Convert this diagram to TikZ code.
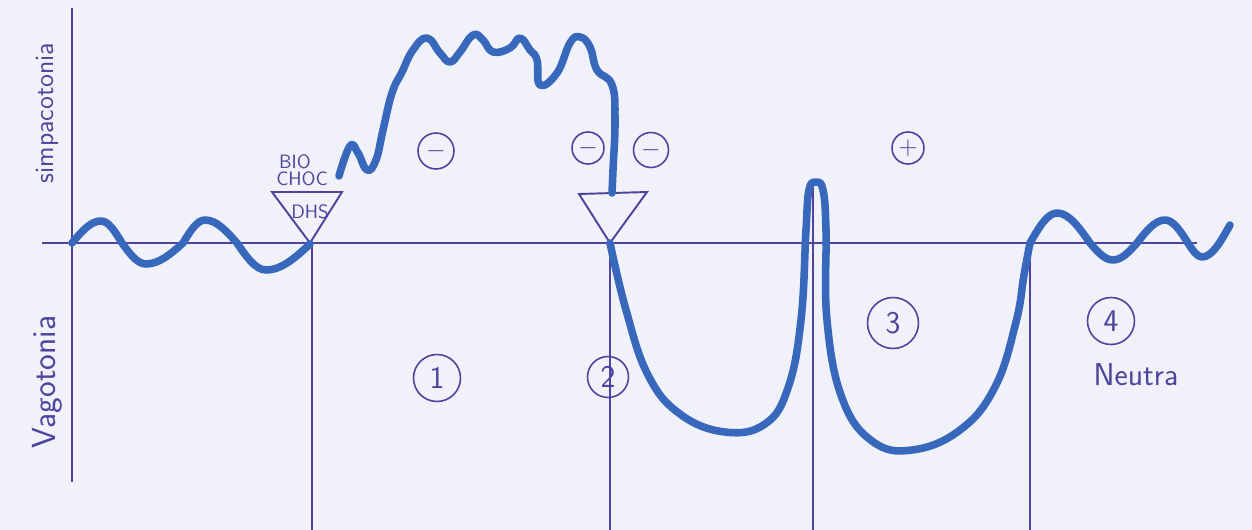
\documentclass[tikz,border=0pt]{standalone}
\usepackage{tikz}

\definecolor{paper}{RGB}{241,241,249}
\definecolor{pen}{RGB}{78,68,158}
\definecolor{ink}{RGB}{55,104,188}

\tikzset{
  axis/.style={pen, line width=1.1pt},
  wave/.style={ink, line width=4.3pt, line cap=round, line join=round},
  hand/.style={pen, font=\sffamily},
  sign/.style={circle, draw=pen, line width=0.9pt, inner sep=0pt, minimum size=0.64cm, text=pen, font=\Large},
  zone/.style={circle, draw=pen, line width=0.9pt, inner sep=0pt, minimum size=0.94cm, text=pen, font=\sffamily\fontsize{18}{20}\selectfont},
}

\begin{document}
\begin{tikzpicture}[x=0.02cm, y=-0.02cm]
\fill[paper] (0,0) rectangle (1252,530);
\useasboundingbox (0,0) rectangle (1252,530);

% Axes
\draw[axis] (72,8) -- (72,482);
\draw[axis] (42,243) -- (1197,243);

% Phase borders
\draw[axis] (312,243) -- (312,530);
\draw[axis] (610,243) -- (610,530);
\draw[axis] (813,186) -- (813,530);
\draw[axis] (1030,243) -- (1030,530);

% Triangles
\draw[axis] (272,192) -- (342,192) -- (310,243) -- cycle;
\draw[axis] (579,194) -- (647,192) -- (610,243) -- cycle;

% Curve
\draw[wave] (72,243) sin (101,221) cos (122,243) sin (146,264) cos (183,243) sin (205,220) cos (237,243) sin (266,270) cos (310,244);
\draw[wave] plot[smooth, tension=0.75] coordinates {(339,176) (350,146) (358,153) (367,170) (376,160) (383,130) (392,93) (402,72) (413,50) (427,38) (440,53) (450,62) (460,52) (473,35) (483,40) (493,52) (510,48) (520,38) (530,50) (537,60) (540,85) (557,73) (570,43) (580,37) (590,47) (597,70) (612,85) (615,120) (613,170) (612,193)};
\draw[wave] plot[smooth, tension=0.7] coordinates {(610,243) (626,310) (648,375) (680,414) (725,432) (765,424) (788,388) (801,320) (806,230) (809,190) (816,182) (823,190) (826,230) (827,320) (842,398) (872,441) (912,450) (960,430) (995,387) (1016,322) (1024,275) (1030,243)};
\draw[wave] (1030,243) sin (1057,213) cos (1090,243) sin (1113,260) cos (1137,243) sin (1165,220) cos (1188,243) sin (1202,257) cos (1230,225);

% Labels
\node[hand, rotate=90, font=\sffamily\fontsize{15}{17}\selectfont] (simp) at (47,113) {simpacotonia};
\node[hand, rotate=90, font=\sffamily\fontsize{19}{21}\selectfont] (vago) at (47,382) {Vagotonia};
\node[hand, font=\sffamily\fontsize{11}{12}\selectfont] (bio) at (295,162) {BIO};
\node[hand, font=\sffamily\fontsize{11}{12}\selectfont] (choc) at (302,179) {CHOC};
\node[hand, font=\sffamily\fontsize{11}{12}\selectfont] (dhs) at (310,212) {DHS};
\node[hand, font=\sffamily\fontsize{18}{20}\selectfont] (neutra) at (1136,375) {Neutra};

% Signs
\node[sign, minimum size=0.72cm] (minusa) at (436,151) {$-$};
\node[sign] (minusb) at (588,148) {$-$};
\node[sign, minimum size=0.7cm] (minusc) at (651,150) {$-$};
\node[sign] (plus) at (908,148) {$+$};

% Phases
\node[zone] (one) at (437,378) {1};
\node[zone, minimum size=0.82cm] (two) at (608,377) {2};
\node[zone, minimum size=1.02cm] (three) at (893,323) {3};
\node[zone] (four) at (1111,321) {4};
\end{tikzpicture}
\end{document}
